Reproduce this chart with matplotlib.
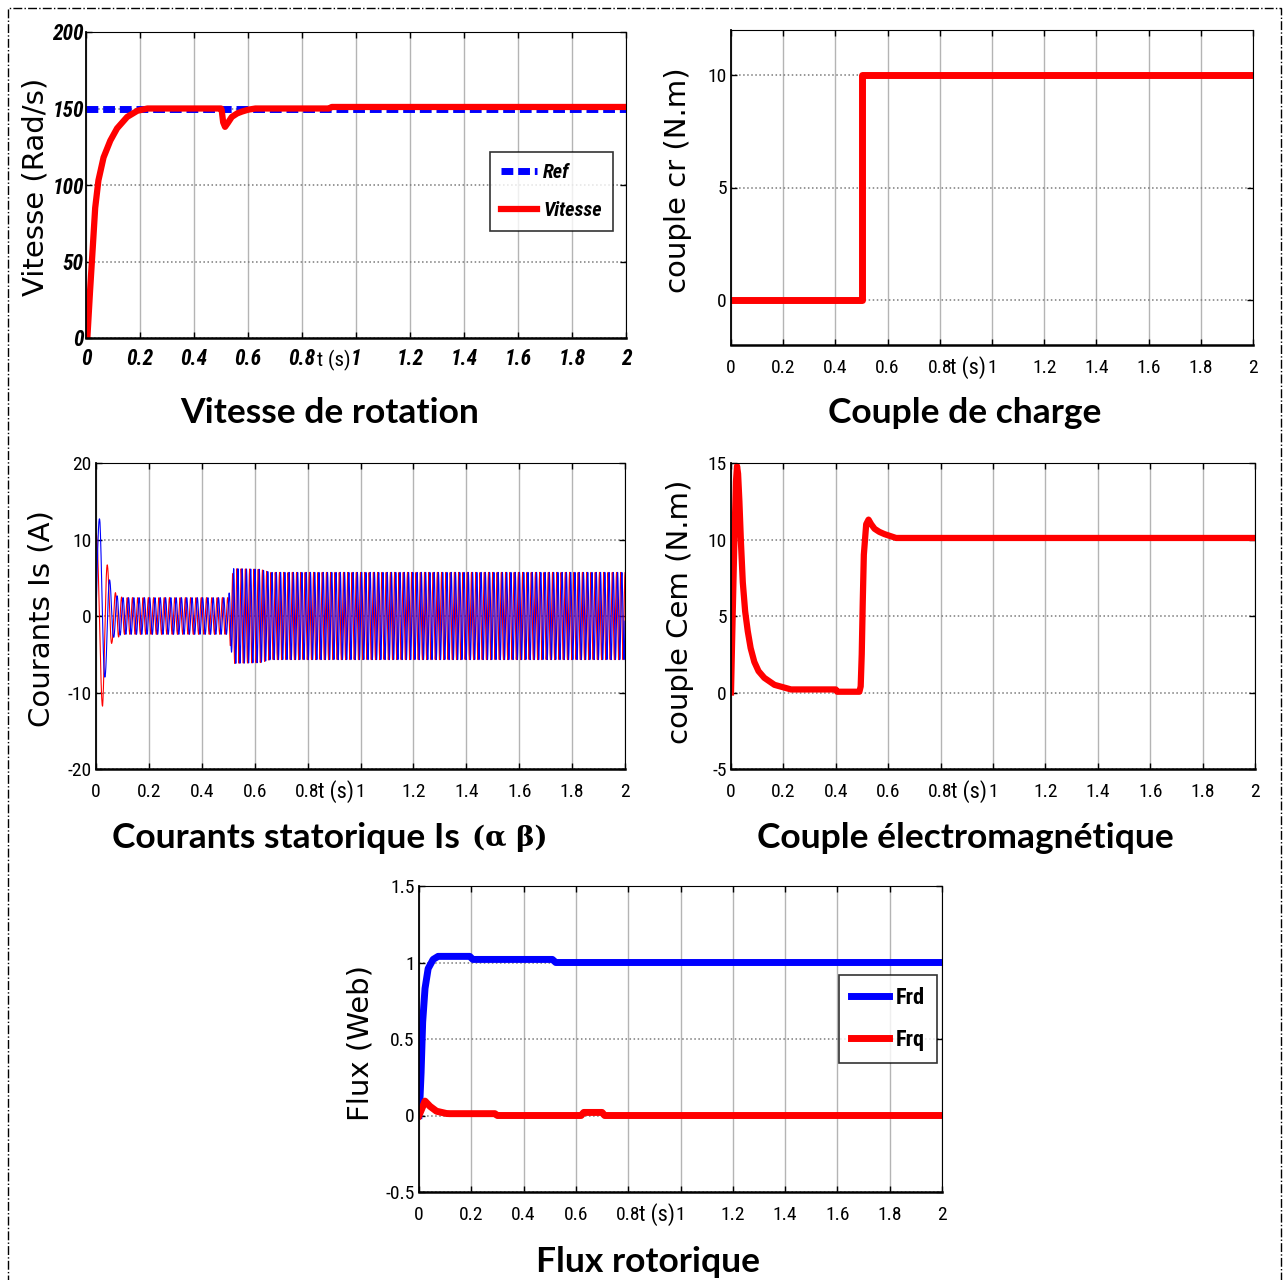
import os
import numpy as np
import matplotlib
matplotlib.use('Agg')
import matplotlib.pyplot as plt
from matplotlib import font_manager
from matplotlib.font_manager import FontProperties
from matplotlib.patches import Rectangle
from matplotlib.ticker import FuncFormatter

# ---- data ----
# vitesse de rotation
t_ref = [0, 2]
w_ref = [150, 150]
t_w = [0, 0.005, 0.015, 0.025, 0.034, 0.046, 0.065, 0.09, 0.115, 0.1525, 0.19, 0.2275,
       0.3, 0.5, 0.5025, 0.508, 0.515, 0.525, 0.54, 0.56, 0.578, 0.6, 0.6275, 0.9, 0.91, 2.0]
w = [0, 0, 30.7, 59, 85, 103, 118, 129, 137, 144.5, 148.5, 150,
     150, 150, 149, 141, 138, 140.5, 144.5, 146.8, 148, 149.2, 150, 150, 151, 151]

# couple de charge
t_cr = [0, 0.5, 0.5, 2]
cr = [0, 0, 10, 10]

# courants statoriques (amplitude envelopes + frequency)
is_freq_t = [0, 0.02, 0.05, 0.08, 0.12, 0.5, 0.52, 2.0]
is_freq = [18, 22, 30, 42, 50, 50, 62, 62]
ia_env_t = [0, 0.025, 0.047, 0.06, 0.075, 0.1, 0.5, 0.52, 0.62, 0.66, 2.0]
ia_env = [10.8, 11.8, 5.6, 3.5, 3.0, 2.4, 2.4, 6.2, 6.1, 5.7, 5.7]
ib_env_t = [0, 0.015, 0.034, 0.053, 0.066, 0.1, 0.5, 0.52, 0.62, 0.66, 2.0]
ib_env = [12.7, 12.7, 8.0, 4.5, 2.8, 2.4, 2.4, 6.2, 6.1, 5.7, 5.7]

# couple electromagnetique
t_cem = [0, 0.005, 0.013, 0.019, 0.023, 0.027, 0.032, 0.038, 0.045, 0.054, 0.064, 0.075,
         0.089, 0.105, 0.127, 0.166, 0.229, 0.40, 0.405, 0.49, 0.495, 0.499, 0.503, 0.507,
         0.516, 0.525, 0.535, 0.548, 0.566, 0.586, 0.63, 2.0]
cem = [0, 4, 10, 13.8, 14.8, 14.3, 12.5, 9.8, 7.2, 5.3, 4.0, 2.9,
       2.0, 1.4, 0.96, 0.5, 0.2, 0.2, 0.05, 0.05, 0.4, 2.5, 6, 9,
       11, 11.3, 11.0, 10.7, 10.5, 10.35, 10.1, 10.1]

# flux rotorique
t_frd = [0, 0.004, 0.008, 0.014, 0.023, 0.035, 0.054, 0.073, 0.194, 0.206, 0.51, 0.523, 2.0]
frd = [0, 0.12, 0.28, 0.61, 0.83, 0.96, 1.02, 1.04, 1.04, 1.02, 1.02, 1.0, 1.0]
t_frq = [0, 0.023, 0.042, 0.067, 0.105, 0.118, 0.29, 0.30, 0.62, 0.63, 0.70, 0.71, 2.0]
frq = [0, 0.094, 0.06, 0.028, 0.013, 0.012, 0.012, 0.0, 0.0, 0.02, 0.02, 0.0, 0.0]

xticks = [0, 0.2, 0.4, 0.6, 0.8, 1, 1.2, 1.4, 1.6, 1.8, 2]

# ---- fonts: look for a narrow sans face for the MATLAB-like tick labels ----
names = {f.name for f in font_manager.fontManager.ttflist}
title_font = 'Lato' if 'Lato' in names else 'DejaVu Sans'


def wnum(w):
    if isinstance(w, str):
        return font_manager.weight_dict.get(w, 400)
    return int(w)


def pick_narrow(bold=False, italic=False):
    prefs = ['liberation sans narrow', 'arial narrow', 'roboto condensed',
             'noto sans condensed', 'open sans condensed', 'dejavu sans condensed',
             'condensed', 'narrow']
    found = []
    for f in font_manager.fontManager.ttflist:
        key = (f.name + ' ' + os.path.basename(f.fname)).lower().replace('-', ' ')
        key = key.replace('sanscondensed', 'sans condensed').replace('sansnarrow', 'sans narrow')
        cond = ('narrow' in key or 'condensed' in key or
                str(f.stretch) in ('condensed', 'semi-condensed'))
        if not cond or 'mono' in key or 'extra' in key or 'semi' in key:
            continue
        if ('serif' in key and 'sans' not in key):
            continue
        isb = wnum(f.weight) >= 700 and wnum(f.weight) < 800
        isr = wnum(f.weight) == 400
        isi = f.style in ('italic', 'oblique')
        if (bold and not isb) or (not bold and not isr) or isi != italic:
            continue
        rank = next((i for i, p in enumerate(prefs) if p in key), len(prefs))
        found.append((rank, f.fname))
    if found:
        found.sort()
        return found[0][1]
    return None


f_reg = pick_narrow()
f_bi = pick_narrow(True, True) or f_reg
f_b = pick_narrow(True, False) or f_reg


def fp(fname, size, weight='normal', style='normal'):
    if fname:
        return FontProperties(fname=fname, size=size)
    return FontProperties(family='DejaVu Sans', size=size * 0.8, weight=weight, style=style)


W, H = 1286, 1280
fig = plt.figure(figsize=(W / 100, H / 100), dpi=100)


def box(l, t, r, b):
    return [l / W, 1 - b / H, (r - l) / W, (b - t) / H]


fmt = FuncFormatter(lambda v, p: '%g' % v)


def style(ax, ylim, yticks, tick_fp, xpad=10, ypad=3, tx=0.909, tsize=16):
    ax.set_xlim(0, 2)
    ax.set_ylim(*ylim)
    ax.set_xticks(xticks)
    ax.set_yticks(yticks)
    ax.xaxis.set_major_formatter(fmt)
    ax.yaxis.set_major_formatter(fmt)
    ax.set_axisbelow(True)
    ax.xaxis.grid(True, color='#b4b4b4', lw=1)
    ax.yaxis.grid(True, color='#7a7a7a', lw=1.1, ls=':')
    ax.tick_params(direction='in', top=True, right=True, length=4, width=1)
    ax.tick_params(axis='x', pad=xpad)
    ax.tick_params(axis='y', pad=ypad)
    for lab in ax.get_xticklabels() + ax.get_yticklabels():
        lab.set_fontproperties(tick_fp)
    ax.spines['bottom'].set_linewidth(1.8)
    ax.spines['left'].set_linewidth(1.3)
    ax.spines['top'].set_linewidth(0.8)
    ax.spines['right'].set_linewidth(0.8)
    # "t (s)" label between 0.8 and 1
    ax.annotate('t (s)', xy=(tx, 0), xycoords=('data', 'axes fraction'),
                xytext=(0, -16.5), textcoords='offset points', ha='center', va='center',
                fontproperties=fp(f_reg, tsize))


def ylab(x, y, s):
    fig.text(x / W, 1 - y / H, s, rotation=90, ha='center', va='center',
             family='DejaVu Sans', fontsize=21)


def title(x, y, s, ha='center'):
    fig.text(x / W, 1 - y / H, s, ha=ha, va='center', family=title_font,
             weight='bold', fontsize=25.5)


# panel 1 : vitesse
ax1 = fig.add_axes(box(86, 32, 626, 338))
ax1.plot(t_ref, w_ref, color='#0000ff', lw=5, dashes=(1.7, 0.7), label='Ref')
ax1.plot(t_w, w, color='#ff0000', lw=4.5, label='Vitesse')
style(ax1, (0, 200), [0, 50, 100, 150, 200], fp(f_bi, 15.5, 'bold', 'italic'),
      xpad=7, ypad=1.5, tx=0.917, tsize=15)
leg = ax1.legend(loc='upper right', bbox_to_anchor=(0.976, 0.608), fancybox=False,
                 edgecolor='black', handlelength=1.8, handletextpad=0.3,
                 borderpad=0.55, labelspacing=0.95, borderaxespad=0,
                 prop=fp(f_bi, 14.5, 'bold', 'italic'))
leg.get_frame().set_linewidth(1.2)
ylab(36, 187, 'Vitesse (Rad/s)')
title(330, 413, 'Vitesse de rotation')

# panel 2 : couple de charge
ax2 = fig.add_axes(box(731, 30, 1253, 345))
ax2.plot(t_cr, cr, color='#ff0000', lw=5)
style(ax2, (-2, 12), [0, 5, 10], fp(f_reg, 14))
ylab(678, 180, 'couple cr (N.m)')
title(965, 413, 'Couple de charge')

# panel 3 : courants
t = np.linspace(0, 2, 40001)
phi = 2 * np.pi * np.cumsum(np.interp(t, is_freq_t, is_freq)) * (t[1] - t[0])
phi -= phi[0]
i_alpha = np.interp(t, ia_env_t, ia_env) * np.cos(phi)
i_beta = np.interp(t, ib_env_t, ib_env) * np.sin(phi)
ax3 = fig.add_axes(box(96, 463, 625, 769))
ax3.plot(t, i_alpha, color='#ff0000', lw=0.8)
ax3.plot(t, i_beta, color='#0000ff', lw=0.8)
style(ax3, (-20, 20), [-20, -10, 0, 10, 20], fp(f_reg, 14))
ylab(42, 619, 'Courants Is (A)')
title(468, 838, 'Courants statorique Is ', ha='right')
fig.text(472 / W, 1 - 838 / H, '(α β)', ha='left', va='center',
         family='DejaVu Serif', weight='bold', fontsize=20)

# panel 4 : couple electromagnetique
ax4 = fig.add_axes(box(731, 463, 1255, 769))
ax4.plot(t_cem, cem, color='#ff0000', lw=4.5)
style(ax4, (-5, 15), [-5, 0, 5, 10, 15], fp(f_reg, 14))
ylab(680, 612, 'couple Cem (N.m)')
title(965, 838, 'Couple électromagnétique')

# panel 5 : flux
ax5 = fig.add_axes(box(419, 886, 942, 1192))
ax5.plot(t_frd, frd, color='#0000ff', lw=5, label='Frd')
ax5.plot(t_frq, frq, color='#ff0000', lw=5, label='Frq')
style(ax5, (-0.5, 1.5), [-0.5, 0, 0.5, 1, 1.5], fp(f_reg, 14))
leg5 = ax5.legend(loc='upper right', bbox_to_anchor=(0.99, 0.709), fancybox=False,
                  edgecolor='black', handlelength=1.7, handletextpad=0.3,
                  borderpad=0.55, labelspacing=0.9, borderaxespad=0,
                  prop=fp(f_b, 16, 'bold'))
leg5.get_frame().set_linewidth(1.2)
ylab(360, 1043, 'Flux (Web)')
title(648, 1262, 'Flux rotorique')

# dash-dot frame around the figure
fig.add_artist(Rectangle((8 / W, -0.05), (1281 - 8) / W, 1 - 8 / H + 0.05,
                         transform=fig.transFigure, fill=False, ls='-.',
                         lw=1, ec='black', clip_on=False))

fig.savefig('out.png', dpi=100)
